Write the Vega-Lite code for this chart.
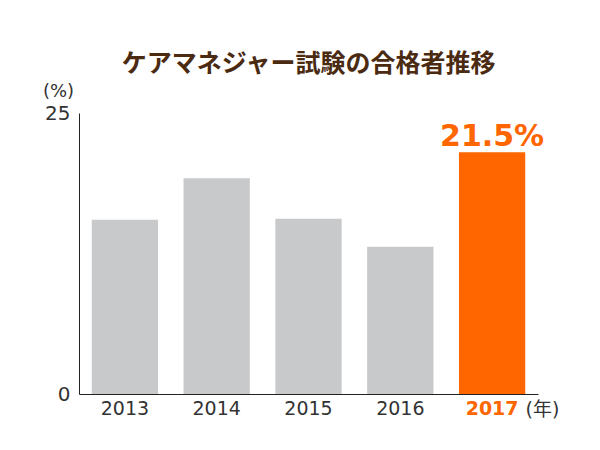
{
  "$schema": "https://vega.github.io/schema/vega-lite/v6.json",
  "autosize": "none",
  "width": 459,
  "height": 281,
  "padding": {"left": 79, "top": 113, "right": 62, "bottom": 56},
  "background": "white",
  "title": {
    "text": "ケアマネジャー試験の合格者推移",
    "font": "Noto Sans CJK JP",
    "fontSize": 25,
    "fontWeight": "bold",
    "color": "#4a2b12",
    "anchor": "middle",
    "offset": 5
  },
  "data": {
    "values": [
      {"year": "2013", "rate": 15.5, "highlight": "no", "label": ""},
      {"year": "2014", "rate": 19.2, "highlight": "no", "label": ""},
      {"year": "2015", "rate": 15.6, "highlight": "no", "label": ""},
      {"year": "2016", "rate": 13.1, "highlight": "no", "label": ""},
      {"year": "2017", "rate": 21.5, "highlight": "yes", "label": "21.5%"}
    ]
  },
  "encoding": {
    "x": {
      "field": "year",
      "type": "nominal",
      "sort": null,
      "scale": {"paddingInner": 0.278, "paddingOuter": 0.139},
      "axis": {
        "title": "(年)",
        "titleFont": "DejaVu Sans, Noto Sans CJK JP",
        "titleFontSize": 19,
        "titleFontWeight": "normal",
        "titleColor": "#333333",
        "titleAngle": 0,
        "titleAlign": "center",
        "titleBaseline": "middle",
        "titleX": 463,
        "titleY": 15,
        "labelAngle": 0,
        "labelFont": "DejaVu Sans",
        "labelFontSize": 19,
        "labelColor": {"condition": {"test": "datum.value == '2017'", "value": "#ff6600"}, "value": "#333333"},
        "labelFontWeight": {"condition": {"test": "datum.value == '2017'", "value": "bold"}, "value": "normal"},
        "labelPadding": 5,
        "ticks": false,
        "domainColor": "#222222",
        "domainWidth": 1
      }
    },
    "y": {
      "field": "rate",
      "type": "quantitative",
      "scale": {"domain": [0, 25], "nice": false},
      "axis": {
        "title": "(%)",
        "titleFont": "DejaVu Sans",
        "titleFontSize": 18,
        "titleFontWeight": "normal",
        "titleColor": "#333333",
        "titleAngle": 0,
        "titleAlign": "center",
        "titleBaseline": "middle",
        "titleX": -21,
        "titleY": -22,
        "values": [0, 25],
        "grid": false,
        "ticks": false,
        "labelFont": "DejaVu Sans",
        "labelFontSize": 20,
        "labelColor": "#333333",
        "labelPadding": 9,
        "domainColor": "#222222",
        "domainWidth": 1
      }
    }
  },
  "layer": [
    {
      "mark": {"type": "bar"},
      "encoding": {
        "color": {
          "field": "highlight",
          "type": "nominal",
          "scale": {"domain": ["no", "yes"], "range": ["#c8c9ca", "#ff6600"]},
          "legend": null
        }
      }
    },
    {
      "transform": [{"filter": "datum.label != ''"}],
      "mark": {
        "type": "text",
        "font": "DejaVu Sans",
        "fontSize": 30,
        "fontWeight": "bold",
        "color": "#ff6600",
        "baseline": "alphabetic",
        "dy": -6
      },
      "encoding": {
        "text": {"field": "label"}
      }
    }
  ],
  "config": {"view": {"stroke": null}}
}
